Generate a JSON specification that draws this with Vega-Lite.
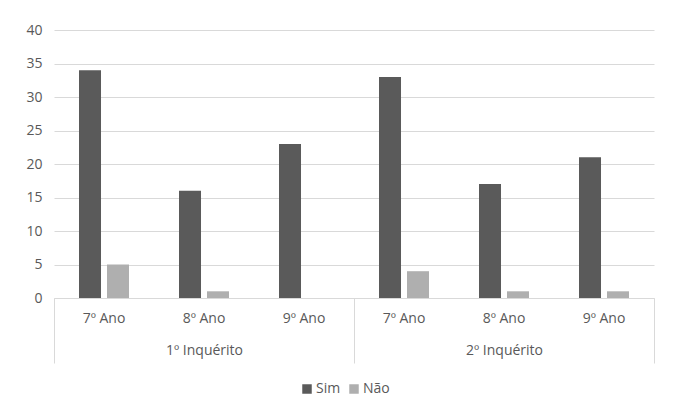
{
  "$schema": "https://vega.github.io/schema/vega-lite/v6.json",
  "width": 600,
  "height": 268,
  "autosize": {"type": "none"},
  "padding": {"left": 54, "top": 30, "right": 22, "bottom": 110},
  "background": "white",
  "config": {
    "font": "Open Sans",
    "view": {"stroke": null},
    "axis": {"labelColor": "#595959", "labelFontSize": 14, "labelFont": "Open Sans"},
    "legend": {"labelFont": "Open Sans"}
  },
  "data": {
    "values": [
      {"turma": "1º Inquérito|7º Ano", "serie": "Sim", "valor": 34},
      {"turma": "1º Inquérito|7º Ano", "serie": "Não", "valor": 5},
      {"turma": "1º Inquérito|8º Ano", "serie": "Sim", "valor": 16},
      {"turma": "1º Inquérito|8º Ano", "serie": "Não", "valor": 1},
      {"turma": "1º Inquérito|9º Ano", "serie": "Sim", "valor": 23},
      {"turma": "1º Inquérito|9º Ano", "serie": "Não", "valor": 0},
      {"turma": "2º Inquérito|7º Ano", "serie": "Sim", "valor": 33},
      {"turma": "2º Inquérito|7º Ano", "serie": "Não", "valor": 4},
      {"turma": "2º Inquérito|8º Ano", "serie": "Sim", "valor": 17},
      {"turma": "2º Inquérito|8º Ano", "serie": "Não", "valor": 1},
      {"turma": "2º Inquérito|9º Ano", "serie": "Sim", "valor": 21},
      {"turma": "2º Inquérito|9º Ano", "serie": "Não", "valor": 1}
    ]
  },
  "layer": [
    {
      "mark": {"type": "bar"},
      "encoding": {
        "x": {
          "field": "turma",
          "type": "nominal",
          "sort": null,
          "scale": {"paddingInner": 0, "paddingOuter": 0},
          "axis": {
            "title": null,
            "labelAngle": 0,
            "ticks": false,
            "domainColor": "#d9d9d9",
            "labelPadding": 13,
            "labelExpr": "split(datum.label, '|')[1]"
          }
        },
        "xOffset": {
          "field": "serie",
          "type": "nominal",
          "sort": ["Sim", "Não"],
          "scale": {"paddingInner": 0.214, "paddingOuter": 0.893}
        },
        "y": {
          "field": "valor",
          "type": "quantitative",
          "scale": {"domain": [0, 40], "nice": false},
          "axis": {
            "title": null,
            "values": [0, 5, 10, 15, 20, 25, 30, 35, 40],
            "domain": false,
            "ticks": false,
            "gridColor": "#d9d9d9",
            "labelPadding": 12
          }
        },
        "color": {
          "field": "serie",
          "type": "nominal",
          "scale": {"domain": ["Sim", "Não"], "range": ["#5a5a5a", "#afafaf"]},
          "legend": {
            "title": null,
            "orient": "none",
            "legendX": 246,
            "legendY": 352,
            "padding": 0,
            "direction": "horizontal",
            "symbolType": "square",
            "symbolSize": 90,
            "symbolStrokeWidth": 0,
            "labelFontSize": 14,
            "labelColor": "#595959",
            "labelOffset": 2,
            "columnPadding": 6
          }
        }
      }
    },
    {
      "mark": {"type": "rule", "opacity": 0},
      "encoding": {
        "x": {
          "field": "turma",
          "type": "nominal",
          "sort": null,
          "axis": {
            "orient": "bottom",
            "title": null,
            "labelAngle": 0,
            "domain": false,
            "tickBand": "extent",
            "tickSize": 65,
            "tickColor": {
              "condition": {"test": "!datum.value || indexof(datum.value, '9º') >= 0", "value": "#d9d9d9"},
              "value": "transparent"
            },
            "labelPadding": -20,
            "labelExpr": "indexof(datum.label, '8º') >= 0 ? split(datum.label, '|')[0] : ''"
          }
        }
      }
    }
  ],
  "resolve": {"axis": {"x": "independent"}}
}
